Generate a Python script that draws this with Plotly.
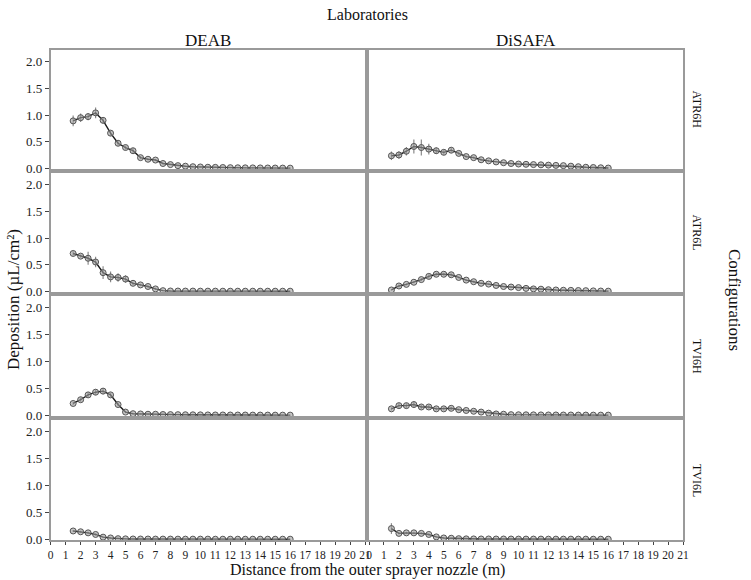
import plotly.graph_objects as go

# distancias (m) comunes a todos los paneles
distance = [1.5 + 0.5 * i for i in range(30)]

labs = ["DEAB", "DiSAFA"]
configs = ["ATR6H", "ATR6L", "TVI6H", "TVI6L"]

# deposición media (µL/cm²)
deab_atr6h = [0.89, 0.95, 0.97, 1.04, 0.90, 0.66, 0.47, 0.39, 0.33, 0.20,
              0.17, 0.155, 0.09, 0.07, 0.05, 0.04, 0.03, 0.025, 0.02, 0.018,
              0.015, 0.012, 0.01, 0.009, 0.008, 0.007, 0.006, 0.005, 0.004, 0.003]
deab_atr6h_sd = [0.10, 0.08, 0.07, 0.10, 0.06, 0.05, 0.04, 0.04, 0.05, 0.03,
                 0.02, 0.02, 0.02, 0.01, 0.01, 0.01, 0.01, 0.01, 0.01, 0.01,
                 0.01, 0.01, 0.01, 0.01, 0.01, 0.01, 0.01, 0.01, 0.01, 0.01]

disafa_atr6h = [0.235, 0.25, 0.32, 0.41, 0.39, 0.36, 0.33, 0.30, 0.34, 0.28,
                0.22, 0.20, 0.16, 0.14, 0.12, 0.105, 0.09, 0.08, 0.075, 0.07,
                0.065, 0.06, 0.055, 0.05, 0.04, 0.03, 0.02, 0.015, 0.01, 0.005]
disafa_atr6h_sd = [0.08, 0.07, 0.08, 0.13, 0.15, 0.10, 0.06, 0.05, 0.05, 0.03,
                   0.02, 0.02, 0.02, 0.02, 0.01, 0.01, 0.01, 0.01, 0.01, 0.01,
                   0.01, 0.01, 0.01, 0.01, 0.01, 0.01, 0.01, 0.01, 0.01, 0.01]

deab_atr6l = [0.71, 0.66, 0.62, 0.55, 0.35, 0.27, 0.26, 0.23, 0.15, 0.12,
              0.09, 0.045, 0.012, 0.006, 0.005, 0.004, 0.004, 0.003, 0.003, 0.003,
              0.002, 0.002, 0.002, 0.002, 0.002, 0.002, 0.002, 0.002, 0.002, 0.002]
deab_atr6l_sd = [0.04, 0.03, 0.12, 0.10, 0.12, 0.10, 0.08, 0.07, 0.03, 0.02,
                 0.02, 0.02, 0.01, 0.005, 0.005, 0.005, 0.005, 0.005, 0.005, 0.005,
                 0.005, 0.005, 0.005, 0.005, 0.005, 0.005, 0.005, 0.005, 0.005, 0.005]

disafa_atr6l = [0.025, 0.10, 0.13, 0.17, 0.22, 0.28, 0.32, 0.32, 0.31, 0.26,
                0.21, 0.18, 0.15, 0.135, 0.11, 0.09, 0.08, 0.07, 0.055, 0.045,
                0.04, 0.03, 0.025, 0.02, 0.018, 0.015, 0.012, 0.008, 0.005, 0.003]
disafa_atr6l_sd = [0.01, 0.03, 0.02, 0.02, 0.03, 0.04, 0.03, 0.03, 0.03, 0.02,
                   0.02, 0.02, 0.01, 0.01, 0.01, 0.01, 0.01, 0.01, 0.01, 0.01,
                   0.01, 0.01, 0.01, 0.01, 0.01, 0.01, 0.01, 0.01, 0.01, 0.01]

deab_tvi6h = [0.22, 0.29, 0.38, 0.43, 0.45, 0.38, 0.20, 0.06, 0.03, 0.025,
              0.02, 0.02, 0.015, 0.013, 0.012, 0.01, 0.009, 0.008, 0.007, 0.006,
              0.006, 0.005, 0.005, 0.005, 0.004, 0.004, 0.004, 0.003, 0.003, 0.003]
deab_tvi6h_sd = [0.03, 0.04, 0.05, 0.05, 0.06, 0.04, 0.03, 0.02, 0.01, 0.01,
                 0.01, 0.01, 0.01, 0.01, 0.005, 0.005, 0.005, 0.005, 0.005, 0.005,
                 0.005, 0.005, 0.005, 0.005, 0.005, 0.005, 0.005, 0.005, 0.005, 0.005]

disafa_tvi6h = [0.12, 0.18, 0.18, 0.20, 0.155, 0.155, 0.12, 0.12, 0.13, 0.105,
                0.09, 0.075, 0.06, 0.04, 0.025, 0.02, 0.012, 0.01, 0.009, 0.008,
                0.007, 0.006, 0.006, 0.005, 0.005, 0.004, 0.004, 0.003, 0.003, 0.003]
disafa_tvi6h_sd = [0.03, 0.05, 0.05, 0.06, 0.04, 0.04, 0.03, 0.03, 0.03, 0.02,
                   0.02, 0.02, 0.01, 0.01, 0.01, 0.01, 0.005, 0.005, 0.005, 0.005,
                   0.005, 0.005, 0.005, 0.005, 0.005, 0.005, 0.005, 0.005, 0.005, 0.005]

deab_tvi6l = [0.155, 0.14, 0.12, 0.09, 0.04, 0.025, 0.012, 0.008, 0.006, 0.005,
              0.005, 0.004, 0.004, 0.004, 0.003, 0.003, 0.003, 0.003, 0.003, 0.002,
              0.002, 0.002, 0.002, 0.002, 0.002, 0.002, 0.002, 0.002, 0.002, 0.002]
deab_tvi6l_sd = [0.02, 0.02, 0.02, 0.02, 0.01, 0.01, 0.005, 0.005, 0.005, 0.005,
                 0.005, 0.005, 0.005, 0.005, 0.005, 0.005, 0.005, 0.005, 0.005, 0.005,
                 0.005, 0.005, 0.005, 0.005, 0.005, 0.005, 0.005, 0.005, 0.005, 0.005]

disafa_tvi6l = [0.20, 0.11, 0.12, 0.12, 0.11, 0.09, 0.045, 0.025, 0.02, 0.012,
                0.008, 0.007, 0.006, 0.006, 0.005, 0.005, 0.005, 0.004, 0.004, 0.004,
                0.004, 0.003, 0.003, 0.003, 0.003, 0.003, 0.003, 0.002, 0.002, 0.002]
disafa_tvi6l_sd = [0.10, 0.02, 0.02, 0.02, 0.02, 0.02, 0.01, 0.01, 0.01, 0.005,
                   0.005, 0.005, 0.005, 0.005, 0.005, 0.005, 0.005, 0.005, 0.005, 0.005,
                   0.005, 0.005, 0.005, 0.005, 0.005, 0.005, 0.005, 0.005, 0.005, 0.005]

series = {
    ("ATR6H", "DEAB"): (deab_atr6h, deab_atr6h_sd),
    ("ATR6H", "DiSAFA"): (disafa_atr6h, disafa_atr6h_sd),
    ("ATR6L", "DEAB"): (deab_atr6l, deab_atr6l_sd),
    ("ATR6L", "DiSAFA"): (disafa_atr6l, disafa_atr6l_sd),
    ("TVI6H", "DEAB"): (deab_tvi6h, deab_tvi6h_sd),
    ("TVI6H", "DiSAFA"): (disafa_tvi6h, disafa_tvi6h_sd),
    ("TVI6L", "DEAB"): (deab_tvi6l, deab_tvi6l_sd),
    ("TVI6L", "DiSAFA"): (disafa_tvi6l, disafa_tvi6l_sd),
}

x_ticks = list(range(0, 22))
y_ticks = [0.0, 0.5, 1.0, 1.5, 2.0]

# se quita el margen del body, así las posiciones en px de pantalla valen directamente
W, H = 751, 580
def px(p):
    return p / W
def py(p):
    return 1 - p / H

col_dom = [[px(50.7), px(365)], [px(369), px(683)]]
row_px = [(50, 169), (173, 292), (296, 416), (420, 540)]
row_dom = [[py(b), py(t)] for t, b in row_px]

FONT = "Liberation Serif, Times New Roman, serif"
BORDER = "#9a9a9a"

fig = go.Figure()
layout = {}
n = 0
for r, cfg in enumerate(configs):
    for c, lab in enumerate(labs):
        n += 1
        sfx = "" if n == 1 else str(n)
        y, sd = series[(cfg, lab)]
        fig.add_trace(go.Scatter(
            x=distance, y=y, mode="lines+markers",
            xaxis="x" + sfx, yaxis="y" + sfx,
            line=dict(color="#1a1a1a", width=1.4),
            marker=dict(symbol="circle", size=6, color="rgba(160,160,160,0.6)",
                        line=dict(color="#555555", width=1)),
            error_y=dict(type="data", array=sd, visible=True, color="#8a8a8a",
                         thickness=1.2, width=0),
            showlegend=False, hoverinfo="x+y"
        ))
        bottom = r == len(configs) - 1
        left = c == 0
        layout["xaxis" + sfx] = dict(
            domain=col_dom[c], anchor="y" + sfx, range=[0, 21],
            tickvals=x_ticks if bottom else [], showticklabels=bottom,
            tickangle=0,
            ticks="outside" if bottom else "", ticklen=3, tickcolor="#444",
            showline=True, mirror=True, linecolor=BORDER, linewidth=1.5,
            showgrid=False, zeroline=False, automargin=False,
            tickfont=dict(family=FONT, size=11.5, color="#222"),
        )
        layout["yaxis" + sfx] = dict(
            domain=row_dom[r], anchor="x" + sfx, range=[-0.013, 2.22],
            tickvals=y_ticks if left else [], showticklabels=left,
            tickformat=".1f",
            ticks="outside" if left else "", ticklen=4, tickcolor="#444",
            showline=True, mirror=True, linecolor=BORDER, linewidth=1.5,
            showgrid=False, zeroline=False, automargin=False,
            tickfont=dict(family=FONT, size=13, color="#222"),
        )

annotations = [
    dict(text="Laboratories", x=px(367), y=py(15), font=dict(size=16)),
    dict(text="DEAB", x=(col_dom[0][0] + col_dom[0][1]) / 2, y=py(40), font=dict(size=17)),
    dict(text="DiSAFA", x=(col_dom[1][0] + col_dom[1][1]) / 2, y=py(40), font=dict(size=17)),
    dict(text="Distance from the outer sprayer nozzle (m)", x=px(367), y=py(570),
         font=dict(size=16)),
    dict(text="Deposition (µL/cm²)", x=px(13), y=py(300), textangle=-90,
         font=dict(size=17)),
    dict(text="Configurations", x=px(735), y=py(300), textangle=90,
         font=dict(size=17)),
]
for r, cfg in enumerate(configs):
    annotations.append(dict(text=cfg, x=px(697), y=(row_dom[r][0] + row_dom[r][1]) / 2,
                            textangle=90, font=dict(size=12)))
for a in annotations:
    a.update(xref="paper", yref="paper", showarrow=False, xanchor="center", yanchor="middle")
    a["font"] = dict(family=FONT, color="#111", size=a["font"]["size"])

fig.update_layout(
    width=W, height=H,
    margin=dict(l=0, r=0, t=0, b=0),
    paper_bgcolor="white", plot_bgcolor="white",
    font=dict(family=FONT),
    annotations=annotations,
    **layout
)

fig.write_html("out.html", config={"displayModeBar": False},
               post_script="document.body.style.margin='0';")
